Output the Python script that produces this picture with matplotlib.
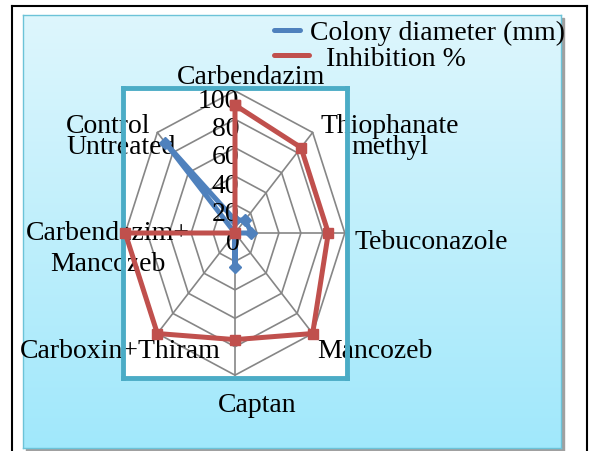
import numpy as np
import matplotlib
matplotlib.use("Agg")
import matplotlib.pyplot as plt
from matplotlib.lines import Line2D
from matplotlib.patches import Rectangle

plt.rcParams['font.family'] = ['Liberation Serif', 'DejaVu Serif']

# data
categories = ['Carbendazim', 'Thiophanate methyl', 'Tebuconazole', 'Mancozeb',
              'Captan', 'Carboxin+Thiram', 'Carbendazim+ Mancozeb', 'Control Untreated']
colony = [9, 13, 15, 0, 24, 0, 0, 90]
inhibition = [90, 85, 85, 100, 75, 100, 100, 0]
rings = [20, 40, 60, 80, 100]
ring_labels = ['0', '20', '40', '60', '80', '100']

W, H = 595, 452
FS = 20
fig = plt.figure(figsize=(W / 100, H / 100), dpi=100)


def fx(x):
    return x / W


def fy(y):
    return 1 - y / H


# page frame lines
for xs, ys in [([12, 12], [7, 452]), ([587, 587], [7, 452]), ([12, 587], [7, 7])]:
    fig.add_artist(Line2D([fx(v) for v in xs], [fy(v) for v in ys], color='black', lw=1.5))

# chart panel with gradient + shadow
px0, py0, px1, py1 = 23, 16, 561, 449
fig.add_artist(Rectangle((fx(px0 + 3), fy(py1 + 3)), fx(px1 - px0), (py1 - py0) / H,
                         color='#a0a0a0', zorder=0))
bg = fig.add_axes([fx(px0), fy(py1), fx(px1 - px0), (py1 - py0) / H])
grad = np.linspace(0, 1, 256).reshape(-1, 1)
top = np.array([0.87, 0.965, 0.99])
bot = np.array([0.63, 0.91, 0.985])
img = top + grad[..., None] * (bot - top)
bg.imshow(img.reshape(256, 1, 3), aspect='auto', extent=[0, 1, 0, 1], origin='upper')
bg.set_xticks([])
bg.set_yticks([])
for s in bg.spines.values():
    s.set_color('#6cc3d8')
    s.set_linewidth(1)

# plot area
bx0, by0, bx1, by1 = 123, 89, 347, 379
ax = fig.add_axes([fx(bx0), fy(by1), fx(bx1 - bx0), (by1 - by0) / H])
ax.set_facecolor('white')
ax.set_xlim(-102, 102)
ax.set_ylim(-102, 102)
ax.set_xticks([])
ax.set_yticks([])
for s in ax.spines.values():
    s.set_color('#4bacc6')
    s.set_linewidth(3.5)
    s.set_zorder(2.5)

n = len(categories)
ang = np.arange(n) * 2 * np.pi / n
sx, sy = np.sin(ang), np.cos(ang)
closed = list(range(n)) + [0]

for r in rings:
    ax.plot(r * sx[closed], r * sy[closed], color='#868686', lw=1.2, zorder=1)
for i in range(n):
    ax.plot([0, 100 * sx[i]], [0, 100 * sy[i]], color='#868686', lw=1.2, zorder=1)

c = np.array(colony, float)
ax.plot(c[closed] * sx[closed], c[closed] * sy[closed], color='#4f81bd', lw=3.6,
        marker='D', ms=6, zorder=3, clip_on=False)
p = np.array(inhibition, float)
ax.plot(p[closed] * sx[closed], p[closed] * sy[closed], color='#c0504d', lw=3.6,
        marker='s', ms=7, zorder=5, clip_on=False)

# radial labels
for k, lab in enumerate(ring_labels):
    ax.text(4, k * 20 - 6.5, lab, ha='right', va='center', fontsize=FS, zorder=4)

# category labels (pixel positions, ha)
cat_text = [
    (['Carbendazim'], 251, [78], 'center'),
    (['Thiophanate', 'methyl'], 390, [127, 148], 'center'),
    (['Tebuconazole'], 431, [243], 'center'),
    (['Mancozeb'], 375, [352], 'center'),
    (['Captan'], 257, [406], 'center'),
    (['Carboxin+Thiram'], 120, [352], 'center'),
    (['Carbendazim+', 'Mancozeb'], 108, [234, 265], 'center'),
    (['Control', 'Untreated'], 66, [127, 147], 'left'),
]
to_data = ax.transData.inverted()
for lines, x, ys, ha in cat_text:
    for line, y in zip(lines, ys):
        dx, dy = to_data.transform(fig.transFigure.transform((fx(x), fy(y))))
        ax.text(dx, dy, line, ha=ha, va='center', fontsize=FS, zorder=2, clip_on=False)

# legend
fig.add_artist(Line2D([fx(274), fx(300)], [fy(31), fy(31)], color='#4f81bd', lw=3.6,
                      solid_capstyle='round'))
fig.add_artist(Line2D([fx(274), fx(309)], [fy(56), fy(56)], color='#c0504d', lw=3.6,
                      solid_capstyle='round'))
fig.text(fx(310), fy(33), 'Colony diameter (mm)', ha='left', va='center', fontsize=FS)
fig.text(fx(326), fy(60), 'Inhibition %', ha='left', va='center', fontsize=FS)

fig.savefig('out.png', dpi=100)
